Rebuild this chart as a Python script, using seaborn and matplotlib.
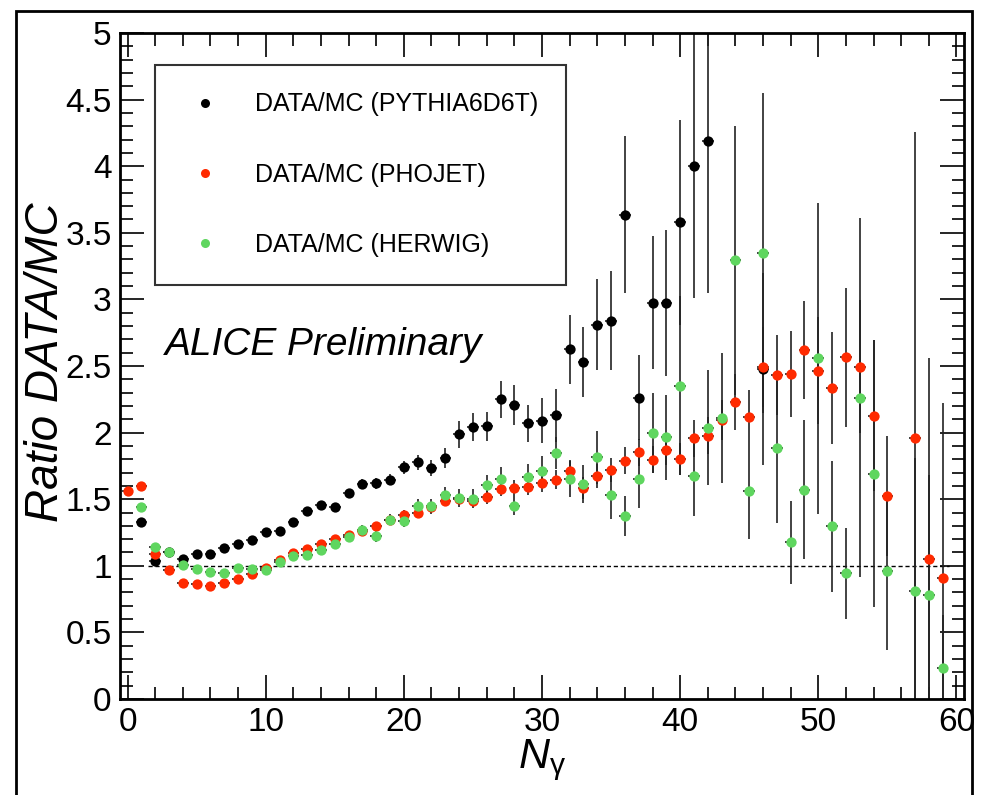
"""
ALICE preliminary: photon multiplicity ratio DATA/MC for three generators.
"""

import numpy as np
import pandas as pd
import matplotlib
matplotlib.use("Agg")
import matplotlib.pyplot as plt
import seaborn as sns
from matplotlib.lines import Line2D
from matplotlib.ticker import MultipleLocator

nan = np.nan

# --- Data ---
n_gamma = list(range(60))

pythia_ratio = [
    nan, 1.33, 1.035, 1.10, 1.048, 1.088, 1.088, 1.13, 1.163, 1.195,
    1.255, 1.265, 1.33, 1.41, 1.455, 1.44, 1.545, 1.615, 1.62, 1.647,
    1.74, 1.776, 1.734, 1.81, 1.986, 2.04, 2.046, 2.25, 2.21, 2.07,
    2.09, 2.13, 2.625, 2.53, 2.81, 2.84, 3.635, 2.263, 2.974, 2.974,
    3.58, 4.0, 4.19, nan, nan, nan, 2.475, nan, nan, nan,
    nan, nan, nan, nan, nan, nan, nan, nan, nan, nan,
]
pythia_err = [
    nan, 0.02, 0.02, 0.02, 0.02, 0.02, 0.02, 0.02, 0.02, 0.02,
    0.02, 0.03, 0.03, 0.03, 0.03, 0.03, 0.03, 0.04, 0.04, 0.04,
    0.05, 0.055, 0.06, 0.075, 0.1, 0.105, 0.11, 0.14, 0.15, 0.14,
    0.17, 0.2, 0.26, 0.26, 0.34, 0.37, 0.59, 0.32, 0.5, 0.55,
    0.77, 0.99, 1.14, nan, nan, nan, 0.72, nan, nan, nan,
    nan, nan, nan, nan, nan, nan, nan, nan, nan, nan,
]

phojet_ratio = [
    1.56, 1.60, 1.09, 0.965, 0.87, 0.863, 0.848, 0.87, 0.903, 0.935,
    0.985, 1.04, 1.095, 1.125, 1.16, 1.20, 1.23, 1.26, 1.30, 1.342,
    1.382, 1.397, 1.44, 1.49, 1.502, 1.49, 1.514, 1.577, 1.585, 1.592,
    1.62, 1.647, 1.709, 1.585, 1.677, 1.716, 1.79, 1.851, 1.796, 1.866,
    1.804, 1.956, 1.976, 2.096, 2.23, 2.12, 2.495, 2.43, 2.44, 2.62,
    2.465, 2.333, 2.565, 2.495, 2.128, 1.522, nan, 1.956, 1.048, 0.91,
]
phojet_err = [
    0.02, 0.02, 0.015, 0.015, 0.015, 0.015, 0.015, 0.015, 0.015, 0.015,
    0.02, 0.02, 0.02, 0.02, 0.02, 0.025, 0.025, 0.03, 0.03, 0.03,
    0.035, 0.035, 0.04, 0.04, 0.045, 0.05, 0.05, 0.055, 0.06, 0.06,
    0.065, 0.07, 0.08, 0.08, 0.09, 0.09, 0.1, 0.1, 0.1, 0.11,
    0.12, 0.14, 0.14, 0.15, 0.21, 0.2, 0.3, 0.3, 0.32, 0.37,
    0.4, 0.42, 0.52, 0.5, 0.57, 0.45, nan, 2.3, 1.51, 1.31,
]

herwig_ratio = [
    nan, 1.44, 1.14, 1.105, 1.003, 0.978, 0.953, 0.943, 0.98, 0.975,
    0.968, 1.03, 1.07, 1.08, 1.118, 1.165, 1.218, 1.272, 1.222, 1.347,
    1.34, 1.452, 1.447, 1.534, 1.51, 1.505, 1.604, 1.654, 1.452, 1.664,
    1.714, 1.846, 1.654, 1.614, 1.814, 1.53, 1.372, 1.654, 1.996, 1.966,
    2.353, 1.672, 2.038, 2.108, 3.293, 1.56, 3.35, 1.884, 1.177, 1.572,
    2.557, 1.297, 0.943, 2.263, 1.692, 0.96, nan, 0.81, 0.78, 0.232,
]
herwig_err = [
    nan, 0.02, 0.015, 0.015, 0.015, 0.015, 0.015, 0.015, 0.015, 0.015,
    0.02, 0.02, 0.02, 0.025, 0.025, 0.03, 0.03, 0.035, 0.04, 0.04,
    0.045, 0.05, 0.055, 0.06, 0.065, 0.07, 0.08, 0.09, 0.07, 0.1,
    0.11, 0.12, 0.14, 0.14, 0.2, 0.18, 0.15, 0.22, 0.3, 0.32,
    0.67, 0.3, 0.43, 0.49, 1.01, 0.36, 1.2, 0.56, 0.31, 0.52,
    1.17, 0.49, 0.34, 1.35, 1.0, 0.59, nan, 1.0, 0.9, 0.4,
]

series = [
    ("DATA/MC (PYTHIA6D6T)", pythia_ratio, pythia_err, "black"),
    ("DATA/MC (PHOJET)", phojet_ratio, phojet_err, "#ff2a00"),
    ("DATA/MC (HERWIG)", herwig_ratio, herwig_err, "#5fd65f"),
]

# --- Style ---
sns.set_theme(style="ticks")
plt.rcParams["font.family"] = ["Liberation Sans", "DejaVu Sans"]
plt.rcParams["mathtext.fontset"] = "custom"
plt.rcParams["mathtext.it"] = "Liberation Sans:italic"
plt.rcParams["mathtext.rm"] = "Liberation Sans"
for key in ["text.color", "axes.labelcolor", "xtick.color", "ytick.color",
            "xtick.labelcolor", "ytick.labelcolor"]:
    plt.rcParams[key] = "black"

fig = plt.figure(figsize=(9.84, 7.95), dpi=100)
ax = fig.add_axes([120 / 984, 1 - 699 / 795, 844 / 984, 666 / 795])

for label, ratio, err, color in series:
    df = pd.DataFrame({"n": n_gamma, "ratio": ratio, "err": err}).dropna()
    ax.errorbar(df["n"], df["ratio"], yerr=df["err"], xerr=0.42,
                fmt="none", ecolor="#222222", elinewidth=1.2, capsize=0,
                zorder=2)
    sns.scatterplot(data=df, x="n", y="ratio", ax=ax, color=color,
                    s=55, linewidth=0, marker="o", zorder=3, legend=False)

# dashed reference line at ratio = 1
ax.plot([1.5, 59.5], [1, 1], ls=(0, (3, 2)), color="black", lw=1.0, zorder=1)

ax.set_xlim(-0.55, 60.55)
ax.set_ylim(0, 5)
ax.set_xlabel("")
ax.set_ylabel("")
ax.xaxis.set_major_locator(MultipleLocator(10))
ax.xaxis.set_minor_locator(MultipleLocator(2))
ax.yaxis.set_major_locator(MultipleLocator(0.5))
ax.yaxis.set_minor_locator(MultipleLocator(0.1))
ax.yaxis.set_major_formatter(plt.FuncFormatter(lambda v, p: f"{v:g}"))
ax.tick_params(which="both", direction="in", top=True, right=True,
               color="black", width=1.2)
ax.tick_params(which="major", length=17, labelsize=24, pad=6)
ax.tick_params(which="minor", length=9)
for sp in ax.spines.values():
    sp.set_visible(True)
    sp.set_linewidth(2)
    sp.set_color("black")

# axis titles
fig.text(46 / 984, 1 - 362 / 795, "Ratio DATA/MC", rotation=90,
         ha="center", va="center", fontsize=33, style="italic")
fig.text(542 / 984, 1 - 760 / 795, r"$N_{\mathrm{\gamma}}$",
         ha="center", va="center", fontsize=31)

ax.text(2.7, 2.66, "ALICE Preliminary", fontsize=28, style="italic",
        ha="left", va="center")

# legend with markers only
handles = [Line2D([], [], ls="none", marker="o", color=c, markersize=6.5,
                  markeredgewidth=0) for _, _, _, c in series]
leg = ax.legend(handles, [s[0] for s in series], loc="upper left",
                bbox_to_anchor=(35 / 844, 1 - 32 / 666), borderaxespad=0,
                fontsize=18, frameon=True, fancybox=False, framealpha=1,
                edgecolor="#333333", borderpad=1.1, labelspacing=1.85,
                handlelength=1.8, handletextpad=1.1)
leg.get_frame().set_linewidth(1.5)

# outer canvas frame
fig.add_artist(plt.Rectangle((16 / 984, -0.05), (972 - 16) / 984,
                             1.05 - 11 / 795, transform=fig.transFigure,
                             fill=False, edgecolor="black", lw=2))

fig.savefig("out.png", dpi=100)
plt.close(fig)
